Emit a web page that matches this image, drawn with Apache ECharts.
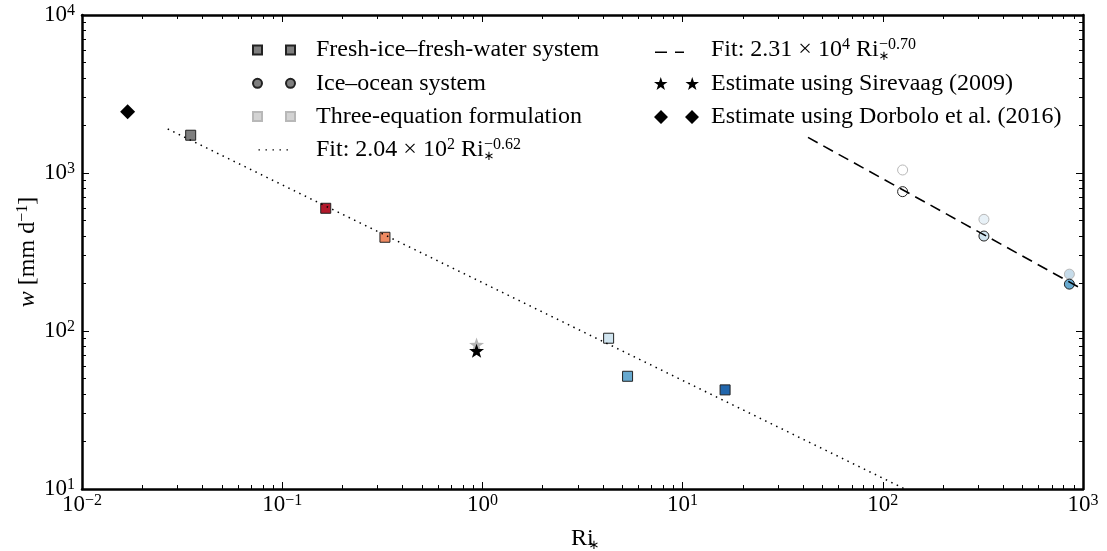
<!DOCTYPE html>
<html><head><meta charset="utf-8">
<script src="https://cdn.jsdelivr.net/npm/echarts@6/dist/echarts.min.js"></script>
<style>html,body{margin:0;padding:0;background:#fff}#c{width:1107px;height:551px}</style>
</head><body><div id="c"></div>
<script>
// ---- tick labels ----
const xTickValues = [0.01, 0.1, 1, 10, 100, 1000];
const xTickExps = ['−2', '−1', '0', '1', '2', '3'];
const yTickValues = [10, 100, 1000, 10000];
const yTickExps = ['1', '2', '3', '4'];

// ---- data ----
const freshRi = [0.0349, 0.165, 0.326, 4.27, 5.31, 16.3];
const freshW = [1734, 598, 392, 90, 51.7, 42.4];
const oceanRi = [125.6, 320, 855];
const oceanW = [762, 399, 198];
const threeEqRi = [125.6, 320, 855, 0.935];
const threeEqW = [1045, 509, 229, 82];
const sirevaagRi = [0.935];
const sirevaagW = [75];
const dorboloRi = [0.0169];
const dorboloW = [2443];
const fitFreshRi = [0.0268, 129];
const fitFreshW = [1900, 10];
const fitOceanRi = [42.3, 1000];
const fitOceanW = [1680, 183];

// ---- styles ----
const freshColors = ['#7f7f7f', '#b2182b', '#ef8a62', '#d1e5f0', '#67a9cf', '#2166ac'];
const oceanColors = ['#ffffff', '#d1e5f0', '#67a9cf'];
const threeEqColors = ['#ffffff', '#e8f1f7', '#c6dbe9', '#b5b5b5'];
const threeEqSymbols = ['circle', 'circle', 'circle', 'star'];

const FONT = 'Liberation Serif';
const STAR = 'path://M7,0L8.646,4.735L13.657,4.837L9.663,7.865L11.114,12.663L7,9.8L2.886,12.663L4.337,7.865L0.343,4.837L5.354,4.735Z';
const STAR2 = 'path://M7,0L8.646,4.735L13.657,4.837L9.663,7.865L11.114,12.663L7,9.8L2.886,12.663L4.337,7.865L0.343,4.837L5.354,4.735Z' +
  'M38,0L39.646,4.735L44.657,4.837L40.663,7.865L42.114,12.663L38,9.8L33.886,12.663L35.337,7.865L31.343,4.837L36.354,4.735Z';

const minorX = [], minorY = [];
for (let e = -2; e <= 2; e++) for (let m = 2; m <= 9; m++) minorX.push(Number((m * Math.pow(10, e)).toPrecision(6)));
for (let e = 1; e <= 3; e++) for (let m = 2; m <= 9; m++) minorY.push(Number((m * Math.pow(10, e)).toPrecision(6)));

function zipData(xs, ys, colors, symbols) {
  return xs.map((x, i) => {
    const d = { value: [x, ys[i]] };
    if (colors) d.itemStyle = { color: colors[i] };
    if (symbols) {
      const s = symbols[i];
      d.symbol = s === 'star' ? STAR : s;
      d.symbolSize = s === 'star' ? [15, 14.2] : 10;
      if (s === 'star') d.itemStyle.borderWidth = 0;
    }
    return d;
  });
}

const richBase = {
  b: { fontFamily: FONT, fontSize: 24, color: '#000', lineHeight: 26 },
  s: { fontFamily: FONT, fontSize: 16, color: '#000', lineHeight: 16, verticalAlign: 'top' },
  u: { fontFamily: 'DejaVu Sans', fontSize: 13, color: '#000', lineHeight: 15, verticalAlign: 'bottom', width: 0.5 },
  i: { fontFamily: FONT, fontStyle: 'italic', fontSize: 24, color: '#000', lineHeight: 26 }
};
const richTick = {
  b: { fontFamily: FONT, fontSize: 23, color: '#000', lineHeight: 24 },
  s: { fontFamily: FONT, fontSize: 16, color: '#000', lineHeight: 15, verticalAlign: 'top' }
};

function tickFmt(values, exps) {
  return function (val) {
    const i = values.findIndex(v => Math.abs(Math.log10(v / val)) < 1e-6);
    return '{b|10}{s|' + (i >= 0 ? exps[i] : '') + '}';
  };
}

const legendText = {
  fresh: 'Fresh-ice–fresh-water system',
  ocean: 'Ice–ocean system',
  three: 'Three-equation formulation',
  fit1: 'Fit: 2.04 × 10{s|2} Ri{u|∗}{s|−0.62}',
  fit2: 'Fit: 2.31 × 10{s|4} Ri{u|∗}{s|−0.70}',
  sir: 'Estimate using Sirevaag (2009)',
  dor: 'Estimate using Dorbolo et al. (2016)'
};

const axisLineStyle = { show: true, lineStyle: { color: '#000', width: 2.5 } };
function majorAxis(kind, pos, values, exps, withLabel, extra) {
  return Object.assign({
    type: 'log', logBase: 10,
    min: kind === 'x' ? 0.01 : 10, max: kind === 'x' ? 1000 : 10000,
    position: pos,
    axisLine: axisLineStyle,
    axisTick: { show: true, inside: true, length: 7, customValues: values, lineStyle: { color: '#000', width: 1 } },
    axisLabel: withLabel ? { show: true, customValues: values, formatter: tickFmt(values, exps), rich: richTick, margin: kind === 'x' ? 4 : 7 } : { show: false },
    splitLine: { show: false },
    minorTick: { show: false }, minorSplitLine: { show: false }
  }, extra || {});
}
function minorAxis(kind, pos, values) {
  return {
    type: 'log', logBase: 10,
    min: kind === 'x' ? 0.01 : 10, max: kind === 'x' ? 1000 : 10000,
    position: pos,
    axisLine: { show: false },
    axisTick: { show: true, inside: true, length: 4, customValues: values, lineStyle: { color: '#000', width: 1 } },
    axisLabel: { show: false }, splitLine: { show: false }
  };
}

const chart = echarts.init(document.getElementById('c'), null, { renderer: 'canvas' });
chart.setOption({
  animation: false,
  backgroundColor: '#fff',
  grid: { left: 82, right: 24, top: 15, bottom: 62, containLabel: false, outerBoundsMode: 'none' },
  xAxis: [
    majorAxis('x', 'bottom', xTickValues, xTickExps, true, {
      name: '{b|Ri}{u|∗}', nameLocation: 'middle', nameGap: 37, nameMoveOverlap: false,
      nameTextStyle: { rich: richBase }
    }),
    majorAxis('x', 'top', xTickValues, xTickExps, false),
    minorAxis('x', 'bottom', minorX),
    minorAxis('x', 'top', minorX)
  ],
  yAxis: [
    majorAxis('y', 'left', yTickValues, yTickExps, true, {
      name: '{i|w}{b| [mm d}{s|−1}{b|]}', nameLocation: 'middle', nameGap: 41, nameRotate: 90, nameMoveOverlap: false,
      nameTextStyle: { rich: richBase }
    }),
    majorAxis('y', 'right', yTickValues, yTickExps, false),
    minorAxis('y', 'left', minorY),
    minorAxis('y', 'right', minorY)
  ],
  legend: [
    {
      left: 252, top: 37, padding: 0, orient: 'vertical', itemGap: 7.3, itemWidth: 42, itemHeight: 9,
      textStyle: { fontFamily: FONT, fontSize: 24, color: '#000', lineHeight: 26, padding: [0, 0, 0, 16], rich: richBase },
      formatter: n => legendText[n],
      selectedMode: false,
      data: [
        { name: 'fresh', icon: 'path://M0,0h9v9h-9z M33,0h9v9h-9z' },
        { name: 'ocean', icon: 'path://M0,4.5A4.5,4.5 0 1 1 9,4.5A4.5,4.5 0 1 1 0,4.5Z M33,4.5A4.5,4.5 0 1 1 42,4.5A4.5,4.5 0 1 1 33,4.5Z' },
        { name: 'three', icon: 'path://M0,0h9v9h-9z M33,0h9v9h-9z' },
        { name: 'fit1', icon: 'path://M0,0h0.01v0.01h-0.01z M41.99,8.99h0.01v0.01h-0.01z M5.5,3.8h1.4v1.4h-1.4z M12.5,3.8h1.4v1.4h-1.4z M19.5,3.8h1.4v1.4h-1.4z M26.5,3.8h1.4v1.4h-1.4z M33.5,3.8h1.4v1.4h-1.4z', itemStyle: { borderWidth: 0, color: '#000' } }
      ]
    },
    {
      left: 654, top: 37, padding: 0, orient: 'vertical', itemGap: 7.5, itemWidth: 45, itemHeight: 14,
      textStyle: { fontFamily: FONT, fontSize: 24, color: '#000', lineHeight: 26, padding: [0, 0, 0, 7], rich: richBase },
      formatter: n => legendText[n],
      selectedMode: false,
      data: [
        { name: 'fit2', icon: 'path://M0,0h0.01v0.01h-0.01z M44.99,13.99h0.01v0.01h-0.01z M1,8.5h12v1.6h-12z M21,8.5h9v1.6h-9z', itemStyle: { borderWidth: 0, color: '#000' } },
        { name: 'sir', icon: STAR2, itemStyle: { borderWidth: 0, color: '#000' } },
        { name: 'dor', icon: 'path://M7,0L14,7L7,14L0,7Z M38,0L45,7L38,14L31,7Z', itemStyle: { borderWidth: 0, color: '#000' } }
      ]
    }
  ],
  series: [
    {
      name: 'three', type: 'scatter', z: 2, symbol: 'rect', symbolSize: 10,
      itemStyle: { color: '#d3d3d3', borderColor: '#b8b8b8', borderWidth: 1, opacity: 1 },
      data: zipData(threeEqRi, threeEqW, threeEqColors, threeEqSymbols)
    },
    {
      name: 'fresh', type: 'scatter', z: 3, symbol: 'rect', symbolSize: 10,
      itemStyle: { color: '#7f7f7f', borderColor: '#222', borderWidth: 1, opacity: 1 },
      data: zipData(freshRi, freshW, freshColors)
    },
    {
      name: 'ocean', type: 'scatter', z: 3, symbol: 'circle', symbolSize: 10,
      itemStyle: { color: '#7f7f7f', borderColor: '#222', borderWidth: 1, opacity: 1 },
      data: zipData(oceanRi, oceanW, oceanColors)
    },
    {
      name: 'sir', type: 'scatter', z: 4, symbol: STAR, symbolSize: [15, 14.2],
      itemStyle: { color: '#000', opacity: 1 },
      data: zipData(sirevaagRi, sirevaagW)
    },
    {
      name: 'dor', type: 'scatter', z: 4, symbol: 'diamond', symbolSize: 15,
      itemStyle: { color: '#000', opacity: 1 },
      data: zipData(dorboloRi, dorboloW)
    },
    {
      name: 'fit1', type: 'line', z: 5, showSymbol: false, symbol: 'none', clip: true,
      itemStyle: { color: '#000' },
      lineStyle: { color: '#000', width: 1.5, type: [1.5, 4.6] },
      data: fitFreshRi.map((x, i) => [x, fitFreshW[i]])
    },
    {
      name: 'fit2', type: 'line', z: 5, showSymbol: false, symbol: 'none', clip: true,
      itemStyle: { color: '#000' },
      lineStyle: { color: '#000', width: 1.6, type: [11, 6.5] },
      data: fitOceanRi.map((x, i) => [x, fitOceanW[i]])
    }
  ]
});
</script>
</body></html>
